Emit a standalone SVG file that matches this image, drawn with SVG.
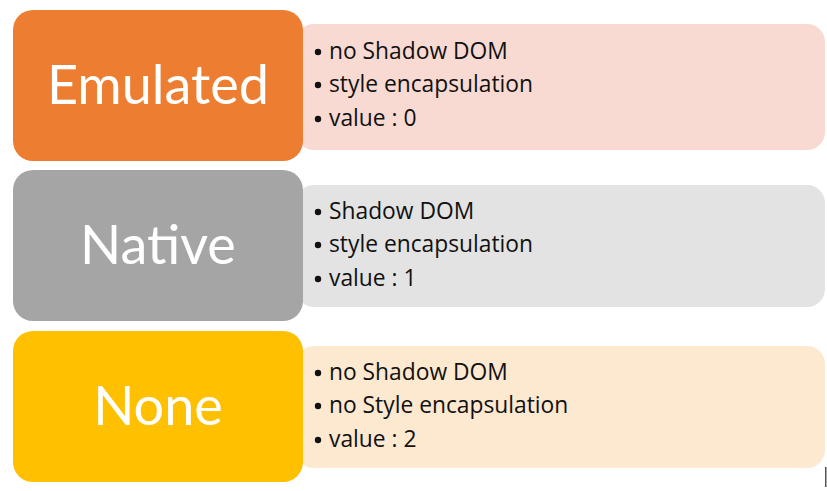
<svg xmlns="http://www.w3.org/2000/svg" width="827" height="491" viewBox="0 0 827 491">
  <style>
    .detail { stroke: none; }
    .title { font-family: Lato, "Open Sans", "Liberation Sans", sans-serif; font-size: 54px; fill: #ffffff; text-anchor: middle; }
    .item { font-family: "Open Sans", Lato, "Liberation Sans", sans-serif; font-size: 22.8px; fill: #111111; }
    .dot { fill: #111111; }
  </style>
  <rect width="827" height="491" fill="#ffffff"/>

  <!-- Emulated -->
  <g id="emulated">
    <rect class="detail" x="296" y="24" width="529" height="126" rx="18" fill="#F8DAD2"/>
    <rect x="13" y="10" width="290" height="151" rx="20" fill="#ED7D31"/>
    <text class="title" x="158" y="104">Emulated</text>
    <circle class="dot" cx="318" cy="52" r="3.2"/>
    <circle class="dot" cx="318" cy="85" r="3.2"/>
    <circle class="dot" cx="318" cy="119" r="3.2"/>
    <text class="item" x="329" y="59">no Shadow DOM</text>
    <text class="item" x="329" y="92">style encapsulation</text>
    <text class="item" x="329" y="126">value : 0</text>
  </g>

  <!-- Native -->
  <g id="native">
    <rect class="detail" x="296" y="185" width="529" height="122" rx="18" fill="#E3E3E3"/>
    <rect x="13" y="170" width="290" height="151" rx="20" fill="#A5A5A5"/>
    <text class="title" x="158" y="264">Native</text>
    <circle class="dot" cx="318" cy="212" r="3.2"/>
    <circle class="dot" cx="318" cy="245" r="3.2"/>
    <circle class="dot" cx="318" cy="279" r="3.2"/>
    <text class="item" x="329" y="219">Shadow DOM</text>
    <text class="item" x="329" y="252">style encapsulation</text>
    <text class="item" x="329" y="286">value : 1</text>
  </g>

  <!-- None -->
  <g id="none">
    <rect class="detail" x="296" y="346" width="529" height="122" rx="18" fill="#FDE8D0"/>
    <rect x="13" y="331" width="290" height="151" rx="20" fill="#FFC000"/>
    <text class="title" x="158" y="425">None</text>
    <circle class="dot" cx="318" cy="373" r="3.2"/>
    <circle class="dot" cx="318" cy="406" r="3.2"/>
    <circle class="dot" cx="318" cy="440" r="3.2"/>
    <text class="item" x="329" y="380">no Shadow DOM</text>
    <text class="item" x="329" y="413">no Style encapsulation</text>
    <text class="item" x="329" y="447">value : 2</text>
  </g>

  <!-- no connectors in this figure -->
  <g id="connectors"/>

  <!-- thin edge tick at lower right -->
  <rect x="825" y="467" width="1.5" height="20" fill="#555555"/>
</svg>
